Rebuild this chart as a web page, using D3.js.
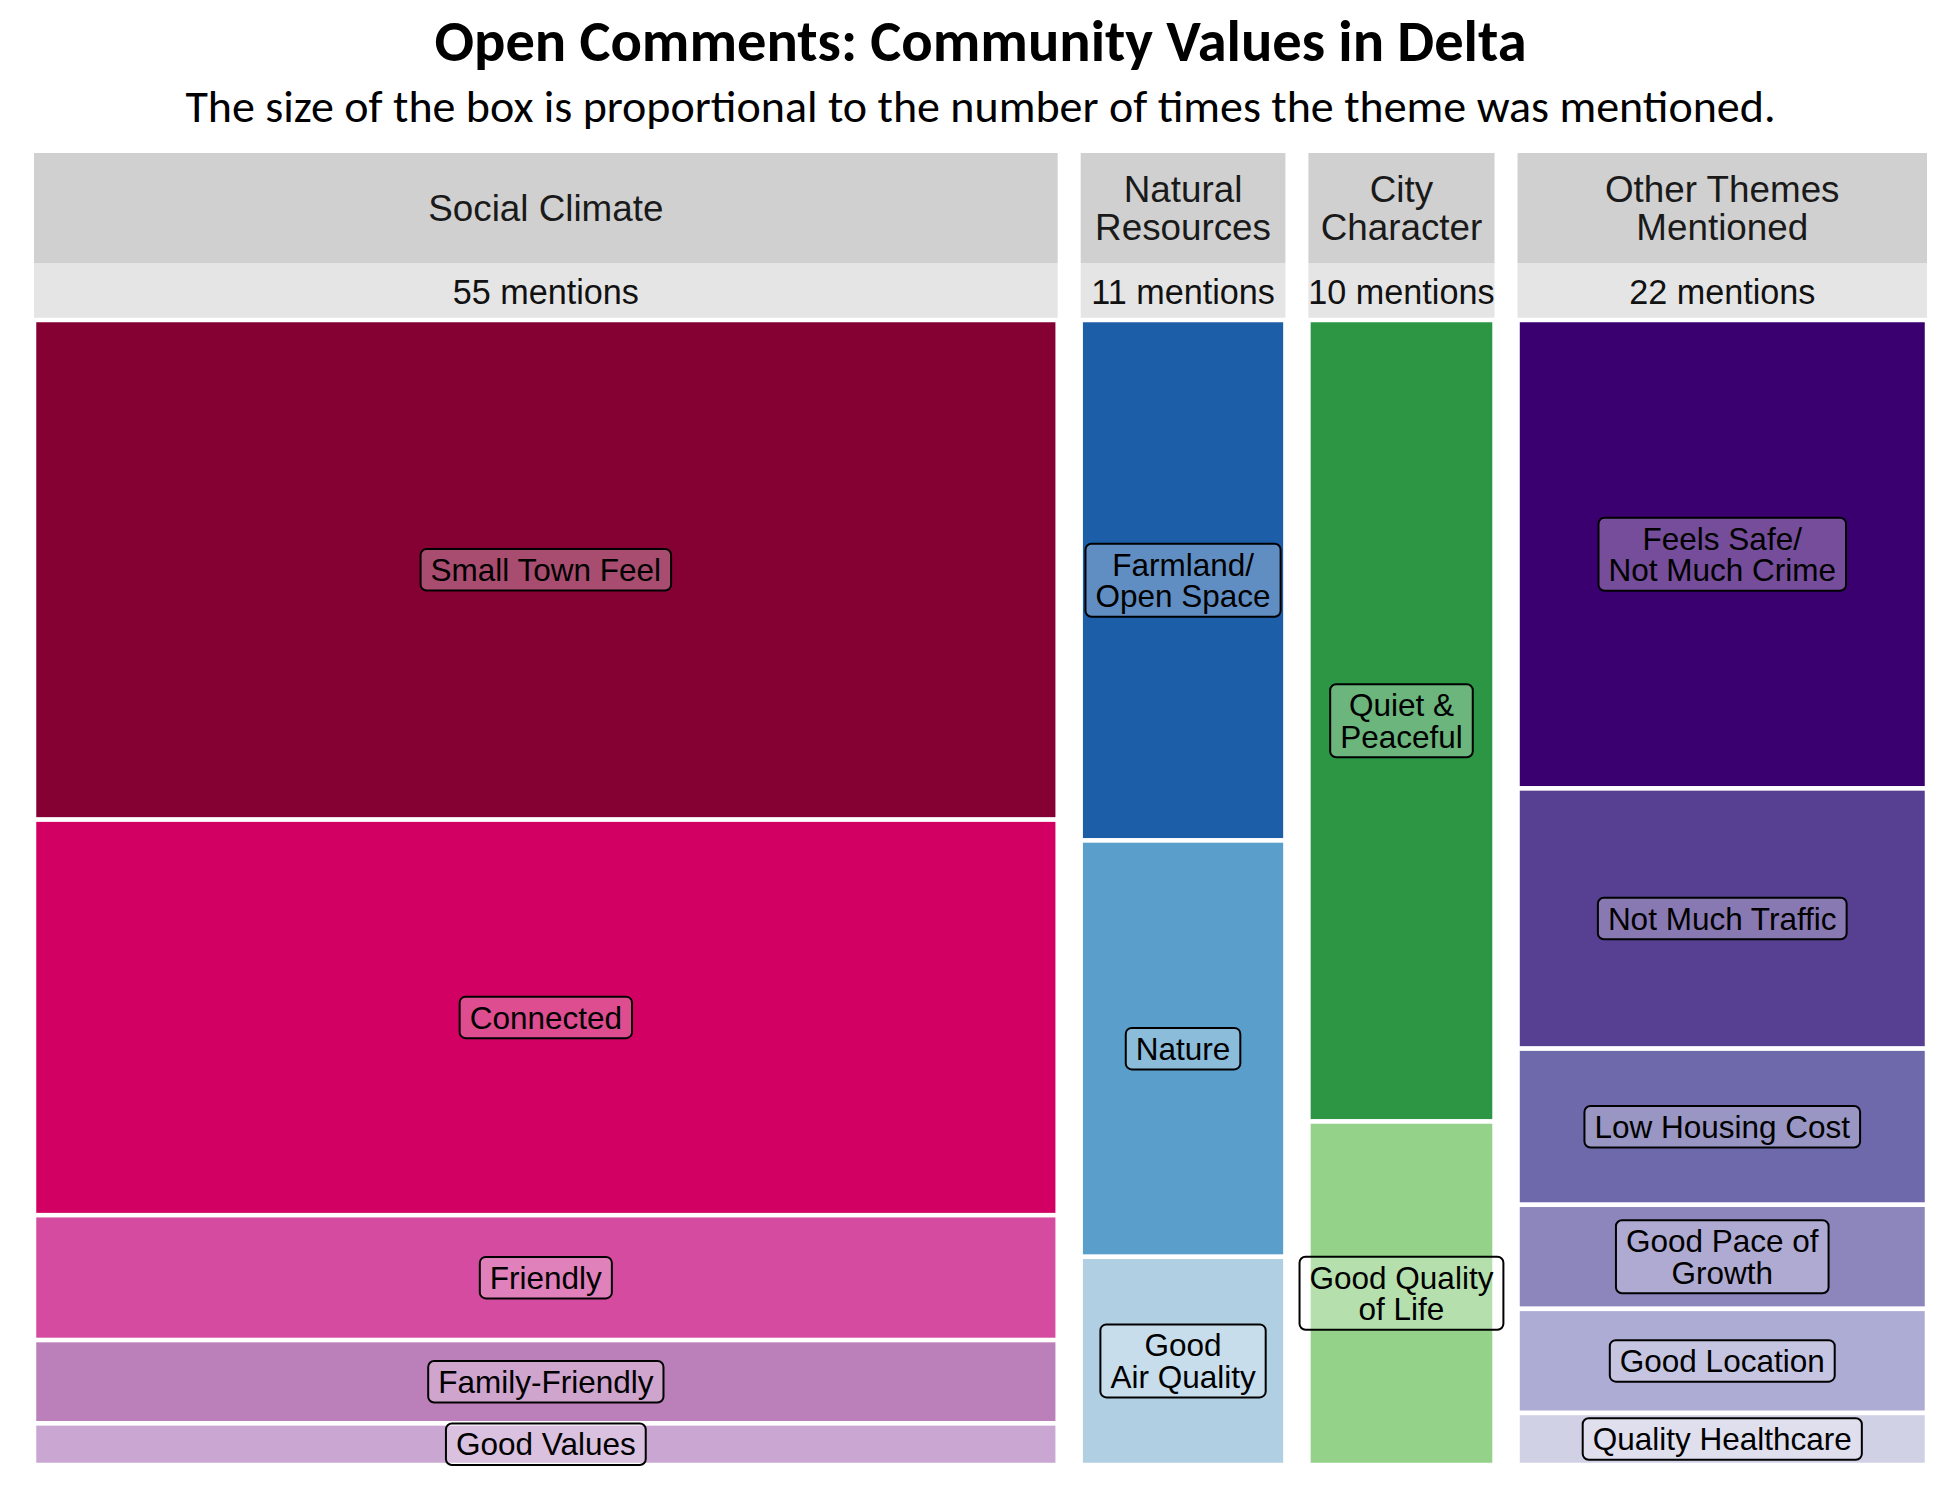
<!DOCTYPE html>
<html>
<head>
<meta charset="utf-8">
<script src="https://cdn.jsdelivr.net/npm/d3@7"></script>
<style>
  body { margin: 0; background: #fff; }
</style>
</head>
<body>
<svg id="mainsvg" width="1950" height="1500"></svg>
<script>
// data
const groupNames = ['Social Climate', 'Natural Resources', 'City Character', 'Other Themes Mentioned'];
const groupHeaderLines = [['Social Climate'], ['Natural', 'Resources'], ['City', 'Character'], ['Other Themes', 'Mentioned']];
const themeNames = ['Small Town Feel', 'Connected', 'Friendly', 'Family-Friendly', 'Good Values',
    'Farmland/\nOpen Space', 'Nature', 'Good\nAir Quality',
    'Quiet &\nPeaceful', 'Good Quality\nof Life',
    'Feels Safe/\nNot Much Crime', 'Not Much Traffic', 'Low Housing Cost', 'Good Pace of\nGrowth', 'Good Location', 'Quality Healthcare'];
const themeGroups = ['Social Climate', 'Social Climate', 'Social Climate', 'Social Climate', 'Social Climate',
    'Natural Resources', 'Natural Resources', 'Natural Resources',
    'City Character', 'City Character',
    'Other Themes Mentioned', 'Other Themes Mentioned', 'Other Themes Mentioned', 'Other Themes Mentioned', 'Other Themes Mentioned', 'Other Themes Mentioned'];
const themeMentions = [24, 19, 6, 4, 2, 5, 4, 2, 7, 3, 9, 5, 3, 2, 2, 1];
const themeColors = ['#850033', '#d10062', '#d44b9f', '#bb7fb9', '#c9a7d2',
    '#1c5ea8', '#5a9fcb', '#b0cfe2',
    '#2d9645', '#95d289',
    '#3a006f', '#573f92', '#6d69aa', '#8d86bd', '#adacd4', '#d1d1e6'];

const titleText = 'Open Comments: Community Values in Delta';
const subtitleText = 'The size of the box is proportional to the number of times the theme was mentioned.';

const svg = d3.select('#mainsvg');
const left = 34, right = 1927, gap = 23;
const headTop = 153, headMid = 263, headBottom = 318;
const leafTop = 320, leafBottom = 1465;
const labelFont = '"Liberation Sans", Arial, Helvetica, sans-serif';
const titleFont = 'Carlito, Calibri, "Liberation Sans Narrow", "Open Sans", sans-serif';

const data = themeNames.map((n, i) => ({
    name: n, group: themeGroups[i], value: themeMentions[i], color: themeColors[i]
}));
const totals = d3.rollup(data, v => d3.sum(v, d => d.value), d => d.group);
const grandTotal = d3.sum(data, d => d.value);

// width per mention, the gaps are fixed
const xScale = d3.scaleLinear()
    .domain([0, grandTotal])
    .range([0, right - left - gap * (groupNames.length - 1)]);

let cum = 0;
const groups = groupNames.map((g, i) => {
    const o = {
        name: g, lines: groupHeaderLines[i], total: totals.get(g),
        x0: left + xScale(cum) + i * gap
    };
    cum += o.total;
    o.x1 = left + xScale(cum) + i * gap;
    return o;
});

// title
svg.append('text')
    .attr('x', (left + right) / 2).attr('y', 61)
    .attr('text-anchor', 'middle')
    .attr('font-family', titleFont).attr('font-weight', 'bold')
    .attr('font-size', 58.5)
    .text(titleText);
svg.append('text')
    .attr('x', (left + right) / 2).attr('y', 122)
    .attr('text-anchor', 'middle')
    .attr('font-family', titleFont)
    .attr('font-size', 46)
    .text(subtitleText);

const g = svg.append('g').attr('id', 'maingroup');

// multi-line text as one <text> with tspans, centred on (cx, cy)
function multiText(sel, lines, cx, cy, fs, lh) {
    const n = lines.length;
    const t = sel.append('text')
        .attr('text-anchor', 'middle')
        .attr('font-family', labelFont).attr('font-size', fs);
    t.selectAll('tspan').data(lines).enter().append('tspan')
        .attr('x', cx)
        .attr('y', (s, i) => cy + (i - (n - 1) / 2) * lh + 0.358 * fs)
        .text(s => s);
    return t;
}

// headers
const head = g.selectAll('.header').data(groups).enter().append('g').attr('class', 'header');
head.append('rect')
    .attr('x', d => d.x0).attr('y', headTop)
    .attr('width', d => d.x1 - d.x0).attr('height', headMid - headTop)
    .attr('fill', '#d0d0d0');
head.append('rect')
    .attr('x', d => d.x0).attr('y', headMid)
    .attr('width', d => d.x1 - d.x0).attr('height', headBottom - headMid)
    .attr('fill', '#e5e5e5');
const headFs = 36.8, headLh = 38, countFs = 34.2;
head.each(function(d) {
    multiText(d3.select(this), d.lines, (d.x0 + d.x1) / 2, (headTop + headMid) / 2, headFs, headLh)
        .attr('fill', '#1a1a1a');
});
head.append('text')
    .attr('x', d => (d.x0 + d.x1) / 2)
    .attr('y', (headMid + headBottom) / 2 + 0.358 * countFs + 1)
    .attr('text-anchor', 'middle')
    .attr('font-family', labelFont).attr('font-size', countFs)
    .attr('fill', '#111')
    .text(d => d.total + ' mentions');

// leaves, stacked per column
groups.forEach(grp => {
    const yScale = d3.scaleLinear().domain([0, grp.total]).range([leafTop, leafBottom]);
    let c = 0;
    data.filter(d => d.group === grp.name).forEach(d => {
        d.x0 = grp.x0; d.x1 = grp.x1;
        d.y0 = yScale(c); c += d.value; d.y1 = yScale(c);
    });
});

const leaf = g.selectAll('.leaf').data(data).enter().append('g').attr('class', 'leaf');
leaf.append('rect')
    .attr('x', d => d.x0).attr('y', d => d.y0)
    .attr('width', d => d.x1 - d.x0).attr('height', d => d.y1 - d.y0)
    .attr('fill', d => d.color)
    .attr('stroke', '#fff').attr('stroke-width', 4.5);

// labels with rounded boxes
const labFs = 31.5, labLh = 31.5, padX = 10, padY = 5;
leaf.each(function(d) {
    const lg = d3.select(this).append('g');
    const lines = d.name.split('\n');
    const cx = (d.x0 + d.x1) / 2, cy = (d.y0 + d.y1) / 2;
    const box = lg.append('rect');
    const txt = multiText(lg, lines, cx, cy, labFs, labLh).attr('fill', '#000');
    let w = 0;
    txt.selectAll('tspan').each(function() { w = Math.max(w, this.getComputedTextLength()); });
    const h = lines.length * labLh + 2 * padY;
    box.attr('x', cx - w / 2 - padX).attr('y', cy - h / 2)
        .attr('width', w + 2 * padX).attr('height', h)
        .attr('rx', 6).attr('ry', 6)
        .attr('fill', 'rgba(255,255,255,0.3)')
        .attr('stroke', '#000').attr('stroke-width', 2);
});
</script>
</body>
</html>
